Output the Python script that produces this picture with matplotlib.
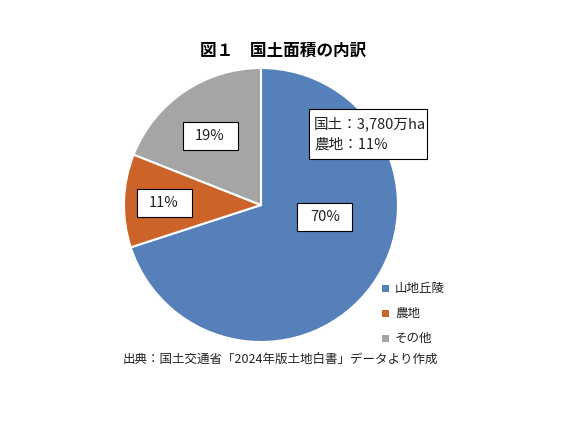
import matplotlib
matplotlib.use("Agg")
import matplotlib.pyplot as plt
from matplotlib.patches import Rectangle

plt.rcParams['font.family'] = ['Noto Sans CJK JP', 'DejaVu Sans']

categories = ["山地丘陵", "農地", "その他"]
values = [70, 11, 19]
labels = ["70%", "11%", "19%"]
colors = ["#5580b9", "#cc6328", "#a5a5a5"]
title = "図１　国土面積の内訳"
note = "国土：3,780万ha\n農地：11%"
source = "出典：国土交通省「2024年版土地白書」データより作成"

W, H = 561, 432
fig = plt.figure(figsize=(W/100, H/100), dpi=100)

cx, cy, r = 261, 205, 137
ax = fig.add_axes([(cx - r)/W, (H - cy - r)/H, 2*r/W, 2*r/H])
wedges, _ = ax.pie(values, colors=colors, startangle=90, counterclock=False,
                   wedgeprops=dict(edgecolor="white", linewidth=1.5))
ax.set_xlim(-1, 1)
ax.set_ylim(-1, 1)
ax.set_aspect("equal")
ax.axis("off")

# label boxes (position in data units of the pie axes)
label_pos = [(0.467, -0.088), (-0.708, 0.015), (-0.372, 0.504)]
bw, bh = 55 / r, 28 / r
for (x, y), t in zip(label_pos, labels):
    ax.add_patch(Rectangle((x - bw/2, y - bh/2), bw, bh, fc="white", ec="black", lw=0.8, zorder=5))
    ax.text(x, y, t, ha="center", va="center", fontsize=10.5, zorder=6, color="#222222")

fig.text(283/W, 1 - 51/H, title, ha="center", va="center", fontsize=12, fontweight="bold")

# note box
fig.patches.append(Rectangle((309/W, 1 - 159/H), 118/W, 50/H, fc="white", ec="black", lw=0.8,
                             transform=fig.transFigure, figure=fig, zorder=5))
for i, line in enumerate(note.split("\n")):
    fig.text(314/W, 1 - (124 + 21*i)/H, line, ha="left", va="center", fontsize=10.5,
             zorder=6, color="#222222")

# legend
for i, (c, name) in enumerate(zip(colors, categories)):
    y = 288 + 25*i
    fig.patches.append(Rectangle((382/W, 1 - (y + 3.5)/H), 7/W, 7/H, fc=c, ec="none",
                                 transform=fig.transFigure, figure=fig))
    fig.text(395/W, 1 - y/H, name, ha="left", va="center", fontsize=9, color="#222222")

fig.text(123/W, 1 - 359/H, source, ha="left", va="center", fontsize=9, color="#222222")

fig.savefig("out.png", dpi=100, facecolor="white")
